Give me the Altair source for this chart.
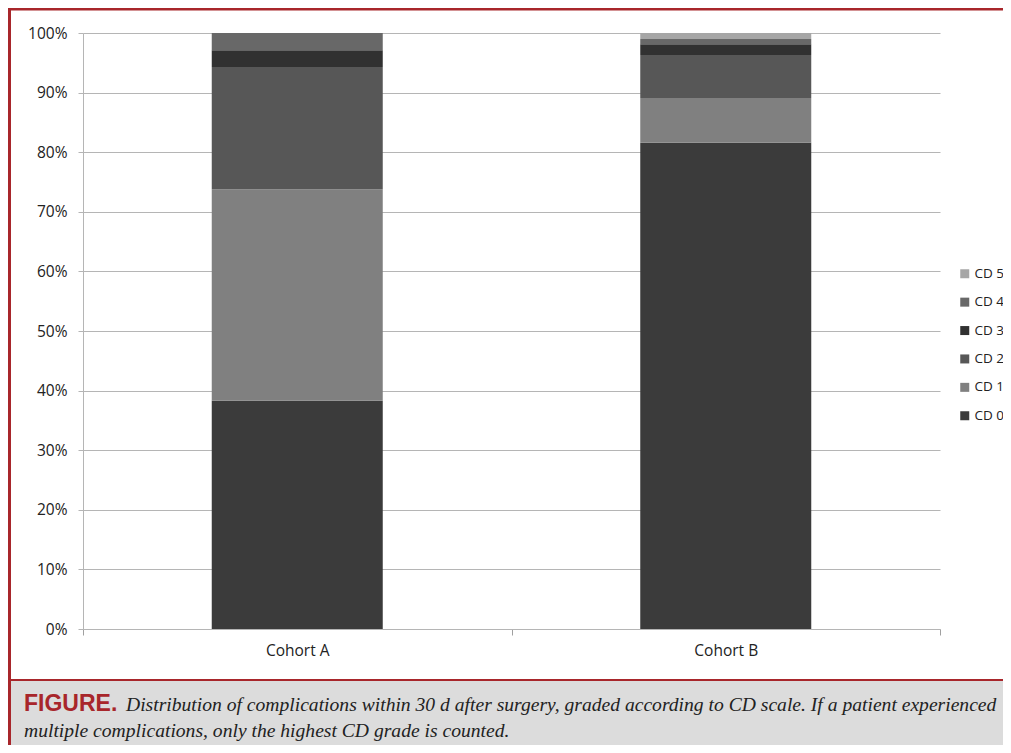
import altair as alt
import pandas as pd

cohorts = ["Cohort A", "Cohort B"]
grades = ["CD 0", "CD 1", "CD 2", "CD 3", "CD 4", "CD 5"]
grade_order = [0, 1, 2, 3, 4, 5]
cohort_a = [38.3, 35.5, 20.5, 2.8, 2.9, 0.0]
cohort_b = [81.6, 7.5, 7.2, 1.8, 0.9, 1.0]
grade_colors = ["#3b3b3b", "#808080", "#575757", "#313131", "#686868", "#a6a6a6"]
y_ticks = [0, 10, 20, 30, 40, 50, 60, 70, 80, 90, 100]

caption_label = "FIGURE."
caption_line1 = "Distribution of complications within 30 d after surgery, graded according to CD scale. If a patient experienced"
caption_line2 = "multiple complications, only the highest CD grade is counted."

rows = []
for cohort, vals in zip(cohorts, [cohort_a, cohort_b]):
    for g, o, v in zip(grades, grade_order, vals):
        rows.append({"cohort": cohort, "grade": g, "ord": o, "pct": v})
df = pd.DataFrame(rows)

W, H = 857, 596

bars = alt.Chart(df).mark_bar(size=171).encode(
    x=alt.X("cohort:N", sort=cohorts,
            scale=alt.Scale(paddingInner=0, paddingOuter=0),
            axis=alt.Axis(title=None, labelAngle=0, tickBand="extent", tickSize=6,
                          domainColor="#b5b5b5", tickColor="#a0a0a0",
                          labelFont="Open Sans", labelFontSize=15.5, labelColor="#222222",
                          labelPadding=8, grid=False)),
    y=alt.Y("pct:Q", stack="zero",
            scale=alt.Scale(domain=[0, 100], nice=False),
            axis=alt.Axis(title=None, values=y_ticks, labelExpr="datum.value + '%'",
                          grid=True, gridColor="#b5b5b5", gridWidth=1,
                          domainColor="#b5b5b5", tickColor="#b5b5b5", tickSize=5,
                          labelFont="Open Sans", labelFontSize=15.5, labelColor="#222222",
                          labelPadding=11)),
    color=alt.Color("grade:N",
                    scale=alt.Scale(domain=grades[::-1], range=grade_colors[::-1]),
                    legend=alt.Legend(title=None, orient="none", legendX=875, legendY=234,
                                      symbolType="square", symbolSize=81, symbolStrokeWidth=0,
                                      labelFont="Open Sans", labelFontSize=13.5,
                                      labelColor="#222222", labelOffset=3, rowPadding=13.4)),
    order=alt.Order("ord:Q", sort="ascending"),
)

one = pd.DataFrame({"k": [0]})

cap_bg = alt.Chart(one).mark_rect(color="#dcdcdc").encode(
    x=alt.value(-73), x2=alt.value(925), y=alt.value(648), y2=alt.value(715))
red_sep = alt.Chart(one).mark_rule(color="#a8262b", strokeWidth=2).encode(
    x=alt.value(-75), x2=alt.value(925), y=alt.value(647))
red_top = alt.Chart(one).mark_rule(color="#a8262b", strokeWidth=3).encode(
    x=alt.value(-75), x2=alt.value(925), y=alt.value(-24))
red_left = alt.Chart(one).mark_rule(color="#a8262b", strokeWidth=3).encode(
    x=alt.value(-73.5), y=alt.value(-25), y2=alt.value(715))

t_label = alt.Chart(pd.DataFrame({"t": [caption_label]})).mark_text(
    align="left", baseline="alphabetic", font="Liberation Sans", fontWeight="bold",
    fontSize=23, color="#a8262b").encode(
    x=alt.value(-59), y=alt.value(678), text="t:N")
t_line1 = alt.Chart(pd.DataFrame({"t": [caption_line1]})).mark_text(
    align="left", baseline="alphabetic", font="Liberation Serif", fontStyle="italic",
    fontSize=19.6, color="#222222").encode(
    x=alt.value(43), y=alt.value(678), text="t:N")
t_line2 = alt.Chart(pd.DataFrame({"t": [caption_line2]})).mark_text(
    align="left", baseline="alphabetic", font="Liberation Serif", fontStyle="italic",
    fontSize=19.6, color="#222222").encode(
    x=alt.value(-59), y=alt.value(704), text="t:N")

chart = alt.layer(
    cap_bg, red_sep, red_top, red_left, bars, t_label, t_line1, t_line2
).properties(
    width=W, height=H,
    autosize=alt.AutoSizeParams(type="none"),
    padding={"left": 75, "top": 25, "right": 63, "bottom": 116},
    background="white",
).configure_view(strokeOpacity=0)

chart.save("out.html", embed_options={"renderer": "svg", "actions": False})
